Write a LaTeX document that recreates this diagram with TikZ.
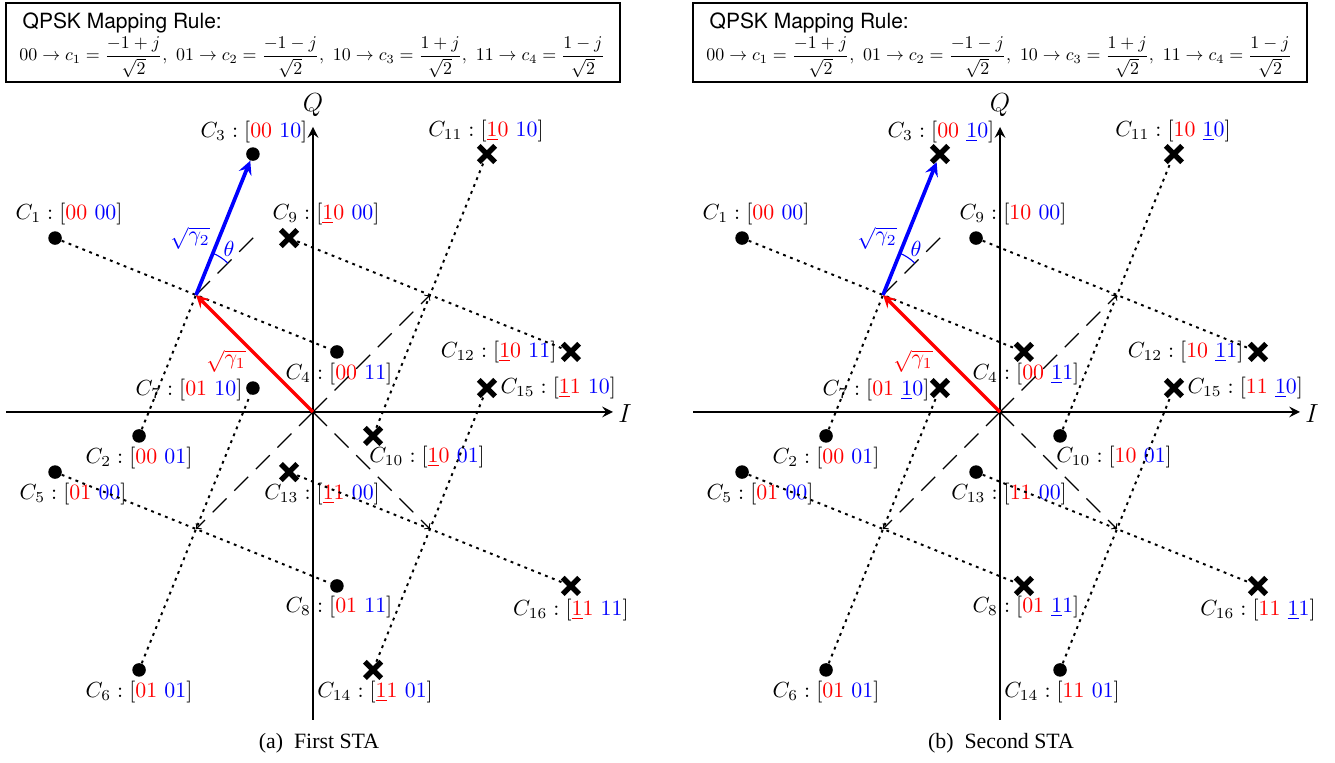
\documentclass[tikz,border=0pt]{standalone}
\usepackage{fontspec}
\newfontfamily\capfont{Liberation Serif}
\newfontfamily\boxfont{TeX Gyre Heros}
\usetikzlibrary{shapes.misc}
\tikzset{
  dot/.style={circle, fill, inner sep=0pt, minimum size=6.2pt},
  xmark/.style={cross out, draw, line width=2.5pt, inner sep=0pt, minimum size=5pt},
  lab/.style={inner sep=1pt},
  dotline/.style={line width=0.9pt, dash pattern=on 1.3pt off 2.1pt},
  dashline/.style={line width=0.5pt, dash pattern=on 9pt off 5pt},
  axis/.style={line width=1.15pt},
  titlefont/.style={font={\boxfont\fontsize{9.6}{11}\selectfont}}
}
\begin{document}
\begin{tikzpicture}[x=0.458pt, y=0.458pt, >=stealth]
  \useasboundingbox (0,0) rectangle (1335,-763);

  % (a) First STA
  \begin{scope}[shift={(313,-412)}]
    % Mapping rule box
    \draw[line width=0.7pt] (-307,409) rectangle (307,330);
    \node[titlefont, anchor=base west] (atitle) at (-298,383) {QPSK Mapping Rule:};
    \node[anchor=west, inner sep=0pt] (arule) at (-294,355) {\scalebox{0.82}{$\displaystyle 00\rightarrow c_1=\frac{-1+j}{\sqrt{2}},\ 01\rightarrow c_2=\frac{-1-j}{\sqrt{2}},\ 10\rightarrow c_3=\frac{1+j}{\sqrt{2}},\ 11\rightarrow c_4=\frac{1-j}{\sqrt{2}}$}};

    % Cluster centres and points
    \coordinate (aO) at (0,0);
    \foreach \s/\cx/\cy in {00/-1/1, 01/-1/-1, 10/1/1, 11/1/-1}
      \coordinate (a\s) at (117*\cx,117*\cy);
    \foreach \k/\s/\ang in {1/00/135, 2/00/225, 3/00/45, 4/00/-45, 5/01/135, 6/01/225, 7/01/45, 8/01/-45,
                            9/10/135, 10/10/225, 11/10/45, 12/10/-45, 13/11/135, 14/11/225, 15/11/45, 16/11/-45}
      \path (a\s) ++(\ang+23:152) coordinate (aC\k);

    % Markers
    \foreach \k in {1,...,8} \node[dot] (am\k) at (aC\k) {};
    \foreach \k in {9,...,16} \node[xmark] (am\k) at (aC\k) {};

    % Labels
    \foreach \k/\an/\dx/\dy/\r/\b in {1/center/14/24/00/00, 2/center/0/-22/00/01, 3/center/1/22/00/10, 4/center/2/-22/00/11,
        5/center/18/-22/01/00, 6/center/0/-22/01/01, 7/east/-8/-2/01/10, 8/center/2/-21/01/11,
        9/center/37/24/{\underline{1}0}/00, 10/center/54/-21/{\underline{1}0}/01, 11/center/-1/23/{\underline{1}0}/10,
        12/east/-12/0/{\underline{1}0}/11, 13/center/33/-22/{\underline{1}1}/00, 14/center/2/-22/{\underline{1}1}/01,
        15/west/11/0/{\underline{1}1}/10, 16/center/0/-24/{\underline{1}1}/11}
      \path (aC\k) ++(\dx,\dy) node[lab, anchor=\an] (al\k) {$C_{\k}:[\textcolor{red}{\r}\ \textcolor{blue}{\b}]$};

    % Dotted links through the cluster centres
    \foreach \p/\q in {1/4, 2/3, 5/8, 6/7, 9/12, 10/11, 13/16, 14/15}
      \draw[dotline] (am\p) -- (am\q);

    % Dashed lines
    \draw[dashline, -to] (aO) -- (a10);
    \draw[dashline, -to] (aO) -- (a01);
    \draw[dashline, -to] (aO) -- (a11);
    \path (a00) ++(45:88) coordinate (aref);
    \draw[dashline] (a00) -- (aref);

    % Axes
    \coordinate (aW) at (-307,0);
    \coordinate (aE) at (300,0);
    \coordinate (aS) at (0,-308);
    \coordinate (aN) at (0,285);
    \draw[axis, ->] (aW) -- (aE);
    \draw[axis, ->] (aS) -- (aN);
    \node[font=\large] (aI) at (312,-2) {$I$};
    \node[font=\large] (aQ) at (0,307) {$Q$};

    % Superposed vectors
    \draw[red, line width=1.5pt, ->] (aO) -- (a00);
    \draw[blue, line width=1.7pt, ->] (a00) -- (am3);
    \draw[blue, line width=0.5pt] (a00) ++(45:45) arc (45:68:45);
    \path (a00) ++(33,46) node[blue] (ath) {$\theta$};
    \path (a00) ++(-6,57) node[blue] (ag2) {$\sqrt{\gamma_2}$};
    \path (aO) ++(-87,51) node[red] (ag1) {$\sqrt{\gamma_1}$};

    \node[font=\capfont] (acap) at (6,-331) {(a)\enspace First STA};
  \end{scope}

  % (b) Second STA
  \begin{scope}[shift={(1000,-412)}]
    % Mapping rule box
    \draw[line width=0.7pt] (-307,409) rectangle (307,330);
    \node[titlefont, anchor=base west] (btitle) at (-298,383) {QPSK Mapping Rule:};
    \node[anchor=west, inner sep=0pt] (brule) at (-294,355) {\scalebox{0.82}{$\displaystyle 00\rightarrow c_1=\frac{-1+j}{\sqrt{2}},\ 01\rightarrow c_2=\frac{-1-j}{\sqrt{2}},\ 10\rightarrow c_3=\frac{1+j}{\sqrt{2}},\ 11\rightarrow c_4=\frac{1-j}{\sqrt{2}}$}};

    % Cluster centres and points
    \coordinate (bO) at (0,0);
    \foreach \s/\cx/\cy in {00/-1/1, 01/-1/-1, 10/1/1, 11/1/-1}
      \coordinate (b\s) at (117*\cx,117*\cy);
    \foreach \k/\s/\ang in {1/00/135, 2/00/225, 3/00/45, 4/00/-45, 5/01/135, 6/01/225, 7/01/45, 8/01/-45,
                            9/10/135, 10/10/225, 11/10/45, 12/10/-45, 13/11/135, 14/11/225, 15/11/45, 16/11/-45}
      \path (b\s) ++(\ang+23:152) coordinate (bC\k);

    % Markers
    \foreach \k in {1,2,5,6,9,10,13,14} \node[dot] (bm\k) at (bC\k) {};
    \foreach \k in {3,4,7,8,11,12,15,16} \node[xmark] (bm\k) at (bC\k) {};

    % Labels
    \foreach \k/\an/\dx/\dy/\r/\b in {1/center/14/24/00/00, 2/center/0/-22/00/01, 3/center/1/22/00/{\underline{1}0},
        4/center/2/-22/00/{\underline{1}1}, 5/center/18/-22/01/00, 6/center/0/-22/01/01, 7/east/-8/-2/01/{\underline{1}0},
        8/center/2/-21/01/{\underline{1}1}, 9/center/37/24/10/00, 10/center/54/-21/10/01, 11/center/-1/23/10/{\underline{1}0},
        12/east/-12/0/10/{\underline{1}1}, 13/center/33/-22/11/00, 14/center/2/-22/11/01,
        15/west/11/0/11/{\underline{1}0}, 16/center/0/-24/11/{\underline{1}1}}
      \path (bC\k) ++(\dx,\dy) node[lab, anchor=\an] (bl\k) {$C_{\k}:[\textcolor{red}{\r}\ \textcolor{blue}{\b}]$};

    % Dotted links through the cluster centres
    \foreach \p/\q in {1/4, 2/3, 5/8, 6/7, 9/12, 10/11, 13/16, 14/15}
      \draw[dotline] (bm\p) -- (bm\q);

    % Dashed lines
    \draw[dashline, -to] (bO) -- (b10);
    \draw[dashline, -to] (bO) -- (b01);
    \draw[dashline, -to] (bO) -- (b11);
    \path (b00) ++(45:88) coordinate (bref);
    \draw[dashline] (b00) -- (bref);

    % Axes
    \coordinate (bW) at (-307,0);
    \coordinate (bE) at (300,0);
    \coordinate (bS) at (0,-308);
    \coordinate (bN) at (0,285);
    \draw[axis, ->] (bW) -- (bE);
    \draw[axis, ->] (bS) -- (bN);
    \node[font=\large] (bI) at (312,-2) {$I$};
    \node[font=\large] (bQ) at (0,307) {$Q$};

    % Superposed vectors
    \draw[red, line width=1.5pt, ->] (bO) -- (b00);
    \draw[blue, line width=1.7pt, ->] (b00) -- (bm3);
    \draw[blue, line width=0.5pt] (b00) ++(45:45) arc (45:68:45);
    \path (b00) ++(33,46) node[blue] (bth) {$\theta$};
    \path (b00) ++(-6,57) node[blue] (bg2) {$\sqrt{\gamma_2}$};
    \path (bO) ++(-87,51) node[red] (bg1) {$\sqrt{\gamma_1}$};

    \node[font=\capfont] (bcap) at (1,-331) {(b)\enspace Second STA};
  \end{scope}
\end{tikzpicture}
\end{document}
